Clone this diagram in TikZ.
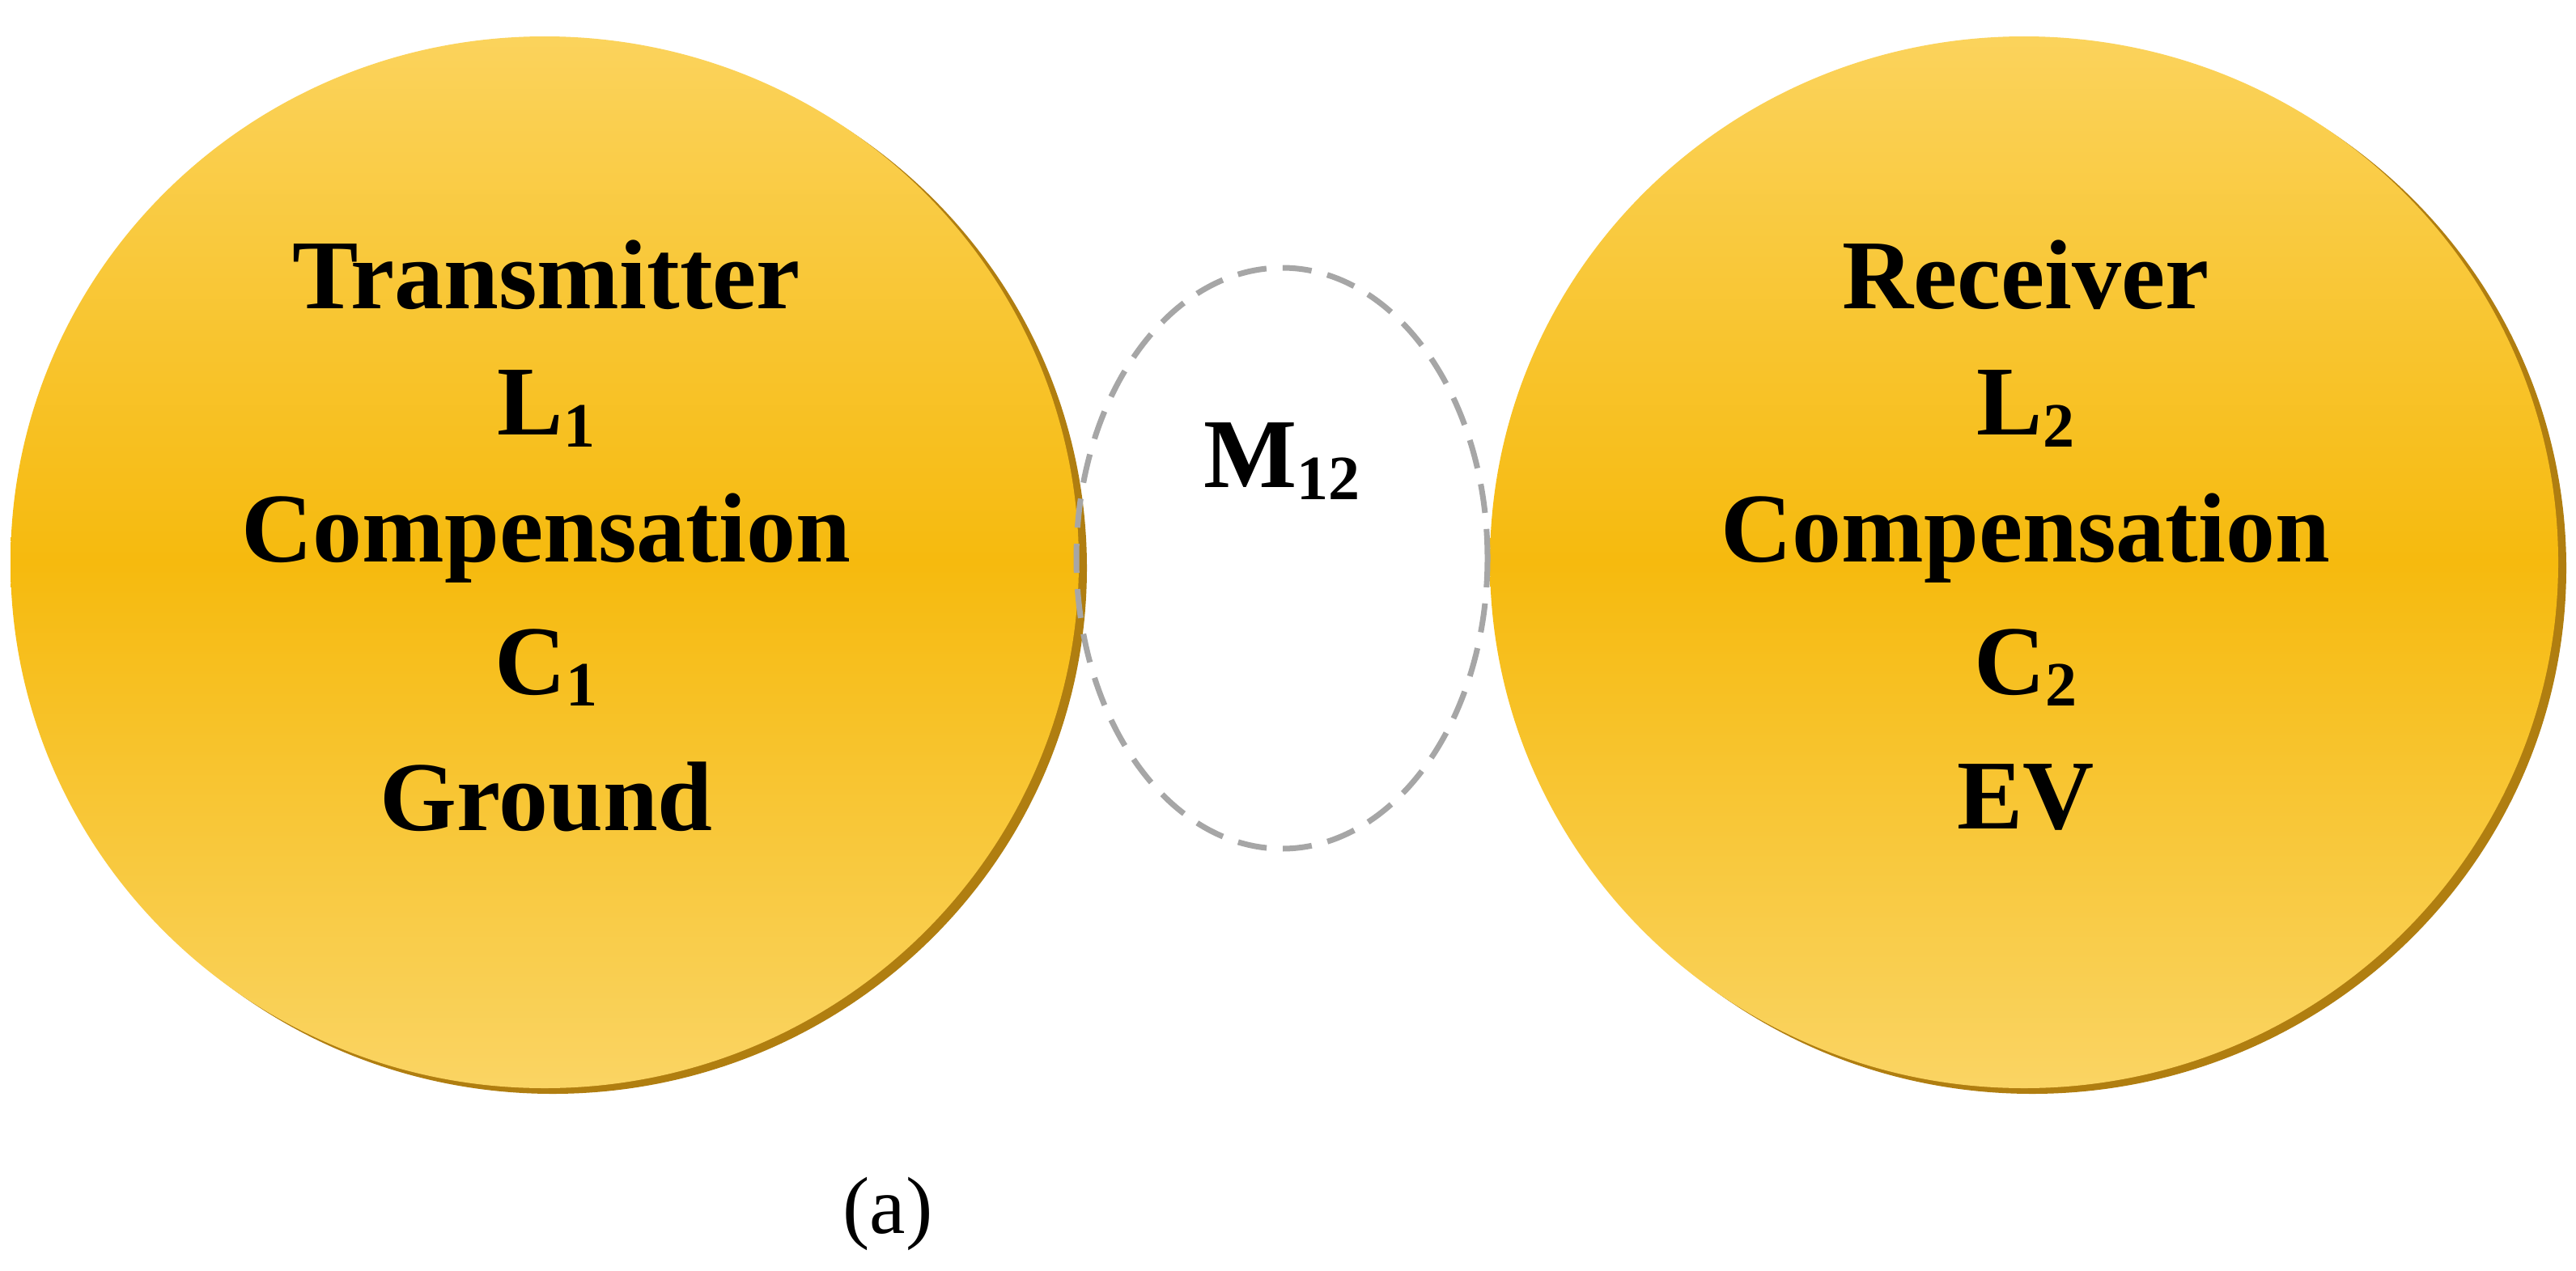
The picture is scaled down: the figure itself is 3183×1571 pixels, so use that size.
\documentclass[tikz,border=0pt]{standalone}
\usepackage{fontspec}
\setmainfont{Liberation Serif}
\newcommand{\mysub}[1]{\raisebox{-0.12em}{\fontsize{78}{90}\selectfont #1}}
\begin{document}
\begin{tikzpicture}[x=1pt,y=-1pt,
  disc/.style={ellipse,minimum width=1320pt,minimum height=1300pt,top color=gtop,bottom color=gbot,middle color=gmid},
  lbl/.style={font=\fontsize{122}{140}\selectfont\bfseries,align=center,inner sep=0pt}]
\usetikzlibrary{shapes.geometric}
\definecolor{gtop}{HTML}{FBD35C}
\definecolor{gmid}{HTML}{F6BA0E}
\definecolor{gbot}{HTML}{FAD463}
\definecolor{gshadow}{HTML}{B07E10}
\fill[white] (0,0) rectangle (3183,1571);
\fill[gshadow] (683,702) ellipse (660 and 650);
\fill[gshadow] (2511,702) ellipse (660 and 650);
\node[disc] (tx) at (673,695) {};
\node[disc] (rx) at (2501,695) {};
\draw[gray!70,line width=7pt,dash pattern=on 36pt off 20pt] (1584,690) ellipse (254 and 359);
\node[lbl] (t1) at (675,340) {Transmitter};
\node[lbl] (t2) at (675,505) {L\mysub{1}};
\node[lbl] (t3) at (675,665) {Compensation};
\node[lbl] (t4) at (675,825) {C\mysub{1}};
\node[lbl] (t5) at (675,985) {Ground};
\node[lbl] (r1) at (2503,340) {Receiver};
\node[lbl] (r2) at (2503,505) {L\mysub{2}};
\node[lbl] (r3) at (2503,665) {Compensation};
\node[lbl] (r4) at (2503,825) {C\mysub{2}};
\node[lbl] (r5) at (2503,985) {EV};
\node[lbl] (m) at (1584,570) {M\mysub{12}};
\node[font=\fontsize{100}{120}\selectfont,inner sep=0pt] (cap) at (1097,1500) {(a)};
\end{tikzpicture}
\end{document}
